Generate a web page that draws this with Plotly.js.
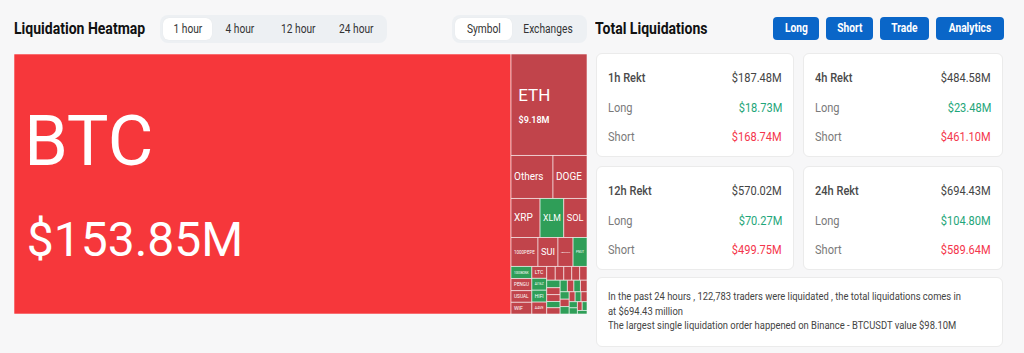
<!DOCTYPE html>
<html><head><meta charset="utf-8">
<script src="https://cdn.plot.ly/plotly-3.0.1.min.js"></script>
<style>
html,body{margin:0;padding:0;background:#f7f7f8;width:1024px;height:353px;overflow:hidden;font-family:Roboto,"Noto Sans",sans-serif;color:#222;}
.abs{position:absolute;box-sizing:border-box;}
.sx{display:inline-block;white-space:nowrap;transform:scaleX(0.85);}
.sxl{transform-origin:left center;}
.sxr{transform-origin:right center;}
.sxc{transform-origin:center center;}
.h1{font-weight:700;font-size:16.5px;color:#111;line-height:20px;}
.seg{background:#edf0f3;border-radius:8px;padding:3px;display:flex;}
.seg div{height:22px;line-height:22px;text-align:center;font-size:12px;color:#333;border-radius:6px;}
.seg div.on{background:#fff;box-shadow:0 0 1px rgba(0,0,0,0.08);}
.btn{background:#0a66c8;color:#fff;border-radius:4px;height:23px;line-height:23px;text-align:center;font-weight:700;font-size:12px;}
.card{background:#fff;border:1px solid #ebebeb;border-radius:6px;}
.row{position:absolute;left:11px;right:11px;height:16px;line-height:16px;font-size:13px;}
.row .l{position:absolute;left:0;top:0;}
.row .r{position:absolute;right:0;top:0;}
.t{color:#4a4a4a;font-weight:500;}
.g{color:#7a7a7a;}
.vl{color:#1fa67a;}
.vs{color:#f4364c;}
.vt{color:#444;}
.note{font-size:11.2px;line-height:14.5px;color:#444;}
</style></head><body>

<div class="abs h1" style="left:14px;top:19px;"><span class="sx sxl">Liquidation Heatmap</span></div>
<div class="abs seg" id="tabs" style="left:160px;top:15px;width:227px;height:28px;"></div>
<div class="abs seg" id="mode" style="left:452px;top:15px;width:135px;height:28px;"></div>
<div class="abs h1" style="left:595px;top:19px;"><span class="sx sxl">Total Liquidations</span></div>
<div id="btns"></div>
<div id="cards"></div>
<div class="abs card" style="left:596px;top:277px;width:407px;height:70px;">
  <div class="abs note" id="note" style="left:11px;top:12px;"></div>
</div>
<div class="abs" id="tm" style="left:14px;top:54px;width:573px;height:260px;"></div>

<script>
// ---- data ----
const timeTabs = ['1 hour','4 hour','12 hour','24 hour'];
const modeTabs = ['Symbol','Exchanges'];
const buttons = ['Long','Short','Trade','Analytics'];

const periods = ['1h','4h','12h','24h'];
const totalRekt = [187.48, 484.58, 570.02, 694.43];
const longRekt = [18.73, 23.48, 70.27, 104.80];
const shortRekt = [168.74, 461.10, 499.75, 589.64];

const traders24h = 122783;
const total24h = 694.43;
const largestExchange = 'Binance';
const largestPair = 'BTCUSDT';
const largestOrder = 98.10;

const symbols = ['BTC','ETH','Others','DOGE','XRP','XLM','SOL','1000PEPE','SUI','FARTCOIN','PNUT',
  '1000BONK','PENGU','USUAL','WIF','LTC','AI16Z','HIFI','AAVE',
  'ADA','ENA','WLD','SEI','AVAX','LINK','BNB','TRX','ONDO','TAO','VIRTUAL','NEAR','APT','ARB','OP',
  'FIL','INJ','TIA','DOT','BCH','ETC','UNI','CRV','JUP','MOVE'];
const liqValues = [153.85, 9.18, 2.15, 1.74, 1.35, 1.10, 1.08, 0.93, 0.69, 0.52, 0.48,
  0.30, 0.30, 0.29, 0.29, 0.21, 0.21, 0.21, 0.21,
  0.14, 0.14, 0.13, 0.13, 0.12, 0.12, 0.11, 0.11, 0.10, 0.10, 0.10, 0.09, 0.09, 0.09, 0.08,
  0.08, 0.08, 0.07, 0.07, 0.07, 0.06, 0.06, 0.05, 0.05, 0.04];
const dominantSide = ['short','short','short','short','short','long','short','short','short','short','long',
  'long','short','short','short','short','long','long','short',
  'short','short','short','short','short','long','short','short','long','short','long','short','long','short','long',
  'short','long','short','long','short','long','long','short','long','long'];

// ---- header widgets ----
function seg(id, items, widths){
  const el=document.getElementById(id);
  items.forEach((t,i)=>{const d=document.createElement('div');d.style.width=widths[i]+'px';if(i===0)d.className='on';
    d.innerHTML='<span class="sx sxc">'+t+'</span>';el.appendChild(d);});
}
seg('tabs', timeTabs, [49,56,60,56]);
seg('mode', modeTabs, [57,72]);
const btnX=[773,826,880,936], btnW=[46,47,49,68];
buttons.forEach((b,i)=>{const d=document.createElement('div');d.className='abs btn';
  d.style.cssText='left:'+btnX[i]+'px;top:17px;width:'+btnW[i]+'px;';d.innerHTML='<span class="sx sxc">'+b+'</span>';
  document.getElementById('btns').appendChild(d);});

// ---- cards ----
const cardX=[596,803,596,803], cardY=[53,53,166,166];
periods.forEach((p,i)=>{
  const c=document.createElement('div');c.className='abs card';
  c.style.cssText='left:'+cardX[i]+'px;top:'+cardY[i]+'px;width:'+(i%2?200:198)+'px;height:104px;';
  const rows=[[p+' Rekt','t','$'+totalRekt[i].toFixed(2)+'M','vt',16],
              ['Long','g','$'+longRekt[i].toFixed(2)+'M','vl',46],
              ['Short','g','$'+shortRekt[i].toFixed(2)+'M','vs',75]];
  rows.forEach(r=>{
    c.innerHTML+='<div class="row" style="top:'+r[4]+'px"><span class="l '+r[1]+'"><span class="sx sxl">'+r[0]+
      '</span></span><span class="r '+r[3]+'"><span class="sx sxr">'+r[2]+'</span></span></div>';
  });
  document.getElementById('cards').appendChild(c);
});
document.getElementById('note').innerHTML='<span class="sx sxl" style="transform:scaleX(0.84)">'+
  'In the past 24 hours , '+traders24h.toLocaleString('en-US')+' traders were liquidated , the total liquidations comes in<br>'+
  'at $'+total24h.toFixed(2)+' million<br>'+
  'The largest single liquidation order happened on '+largestExchange+' - '+largestPair+' value $'+largestOrder.toFixed(2)+'M</span>';

// ---- treemap ----
const sum = liqValues.reduce((a,b)=>a+b,0);
const colors = liqValues.map((v,i)=> dominantSide[i]==='long' ? '#2f9e58' : (v/sum>0.5 ? '#f6373b' : '#c1444b'));
const fontSizes = liqValues.map((v,i)=> i===0 ? 70 : (i===1 ? 17 : 10));
const HAIR = '\u200A', THIN = '\u2009', NB = '\u00A0';
const texts = symbols.map((s,i)=>{
  if(i===0) return HAIR+s+"<br><span style='font-size:48px'>"+THIN+"$"+liqValues[i].toFixed(2)+"M</span>";
  if(i===1) return NB+s+"<br><span style='font-size:9px;font-weight:600'>"+NB+NB+"$"+liqValues[i].toFixed(2)+"M</span>";
  return liqValues[i]>=0.2 ? s : '';
});
Plotly.newPlot('tm',[{
  type:'treemap', labels:symbols, parents:symbols.map(()=>''), values:liqValues,
  text:texts, texttemplate:'%{text}', textposition:'middle left',
  textfont:{family:'Roboto', color:'#ffffff', size:fontSizes},
  marker:{colors:colors, line:{color:'rgba(255,255,255,0.55)', width:1}, pad:{t:0,l:0,r:0,b:0}},
  tiling:{packing:'squarify', squarifyratio:1.618, pad:0},
  pathbar:{visible:false}, sort:true, hoverinfo:'none', root:{color:'rgba(0,0,0,0)'}
}],{width:573,height:260,margin:{l:0,r:0,t:0,b:0},paper_bgcolor:'rgba(0,0,0,0)'},{staticPlot:true,displayModeBar:false});
</script>
</body></html>
